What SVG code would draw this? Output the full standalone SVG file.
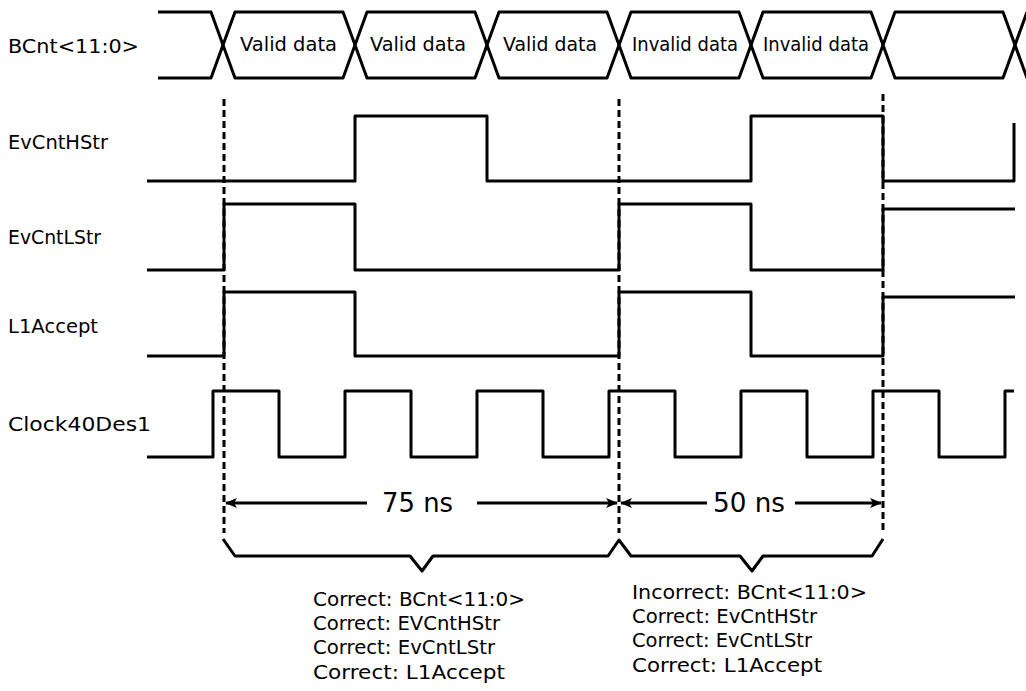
<svg xmlns="http://www.w3.org/2000/svg" width="1026" height="691" viewBox="0 0 1026 691">
<style>
.sig{fill:none;stroke:#000;stroke-width:3;stroke-linejoin:round}
.dash{fill:none;stroke:#000;stroke-width:3;stroke-dasharray:7,4}
.lbl{font-family:"DejaVu Sans","Liberation Sans",sans-serif;font-size:20px;fill:#000}
.bus{font-family:"DejaVu Sans","Liberation Sans",sans-serif;font-size:19px;fill:#000}
.dim{font-family:"DejaVu Sans","Liberation Sans",sans-serif;font-size:27px;fill:#000}
.note{font-family:"DejaVu Sans","Liberation Sans",sans-serif;font-size:20px;fill:#000}
</style>
<defs>
<marker id="ah" viewBox="0 0 12 10" refX="11" refY="5" markerWidth="12" markerHeight="10" markerUnits="userSpaceOnUse" orient="auto-start-reverse">
<path d="M0,0 L12,5 L0,10 L3,5 Z" fill="#000"/>
</marker>
</defs>
<rect width="1026" height="691" fill="#fff"/>

<g id="bcnt">
<text class="lbl" x="8" y="53" textLength="131" lengthAdjust="spacingAndGlyphs">BCnt&lt;11:0&gt;</text>
<path class="sig" d="M158,12 H211 L235,78 H343 L367,12 H475 L499,78 H607 L631,12 H739 L763,78 H871 L895,12 H1003 L1027,78"/>
<path class="sig" d="M158,78 H211 L235,12 H343 L367,78 H475 L499,12 H607 L631,78 H739 L763,12 H871 L895,78 H1003 L1027,12"/>
<text class="bus" x="240" y="51" textLength="97" lengthAdjust="spacingAndGlyphs">Valid data</text>
<text class="bus" x="370" y="51" textLength="96" lengthAdjust="spacingAndGlyphs">Valid data</text>
<text class="bus" x="503" y="51" textLength="94" lengthAdjust="spacingAndGlyphs">Valid data</text>
<text class="bus" x="632" y="51" textLength="106" lengthAdjust="spacingAndGlyphs">Invalid data</text>
<text class="bus" x="763" y="51" textLength="106" lengthAdjust="spacingAndGlyphs">Invalid data</text>
</g>

<g id="evcnthstr">
<text class="lbl" x="8" y="149" textLength="100" lengthAdjust="spacingAndGlyphs">EvCntHStr</text>
<path class="sig" d="M147,181 H355 V116 H487 V181 H751 V116 H883 V181 H1014 V123"/>
</g>

<g id="evcntlstr">
<text class="lbl" x="8" y="244" textLength="93" lengthAdjust="spacingAndGlyphs">EvCntLStr</text>
<path class="sig" d="M147,270 H224 V204 H355 V270 H619 V204 H751 V270 H883 V209 H1015"/>
</g>

<g id="l1accept">
<text class="lbl" x="8" y="333" textLength="90" lengthAdjust="spacingAndGlyphs">L1Accept</text>
<path class="sig" d="M147,356 H224 V292 H355 V356 H619 V292 H751 V356 H883 V297 H1015"/>
</g>

<g id="clock">
<text class="lbl" x="8" y="431" textLength="143" lengthAdjust="spacingAndGlyphs">Clock40Des1</text>
<path class="sig" d="M147,457 H213 V391 H279 V457 H345 V391 H411 V457 H477 V391 H543 V457 H609 V391 H675 V457 H741 V391 H807 V457 H873 V391 H939 V457 H1005 V391 H1014"/>
</g>

<g id="markers">
<line class="dash" x1="224" y1="99" x2="224" y2="533"/>
<line class="dash" x1="619" y1="99" x2="619" y2="533"/>
<line class="dash" x1="883" y1="94" x2="883" y2="533"/>
</g>

<g id="connectors">
<line class="sig" x1="367" y1="503" x2="226" y2="503" marker-end="url(#ah)"/>
<line class="sig" x1="477" y1="503" x2="617" y2="503" marker-end="url(#ah)"/>
<line class="sig" x1="707" y1="503" x2="621" y2="503" marker-end="url(#ah)"/>
<line class="sig" x1="795" y1="503" x2="881" y2="503" marker-end="url(#ah)"/>
<path class="sig" d="M223,539 L235,556 H410 L422,571 L433,556 H608 L619,540 L631,556 H740 L752,571 L763,556 H872 L883,539"/>
</g>

<g id="dims">
<text class="dim" x="382" y="512" textLength="71" lengthAdjust="spacingAndGlyphs">75 ns</text>
<text class="dim" x="713" y="512" textLength="72" lengthAdjust="spacingAndGlyphs">50 ns</text>
</g>

<g id="note-left">
<text class="note" x="313" y="606" textLength="212" lengthAdjust="spacingAndGlyphs">Correct: BCnt&lt;11:0&gt;</text>
<text class="note" x="313" y="630" textLength="187" lengthAdjust="spacingAndGlyphs">Correct: EVCntHStr</text>
<text class="note" x="313" y="654" textLength="182" lengthAdjust="spacingAndGlyphs">Correct: EvCntLStr</text>
<text class="note" x="313" y="679" textLength="192" lengthAdjust="spacingAndGlyphs">Correct: L1Accept</text>
</g>

<g id="note-right">
<text class="note" x="632" y="599" textLength="235" lengthAdjust="spacingAndGlyphs">Incorrect: BCnt&lt;11:0&gt;</text>
<text class="note" x="632" y="623" textLength="185" lengthAdjust="spacingAndGlyphs">Correct: EvCntHStr</text>
<text class="note" x="632" y="647" textLength="180" lengthAdjust="spacingAndGlyphs">Correct: EvCntLStr</text>
<text class="note" x="632" y="672" textLength="190" lengthAdjust="spacingAndGlyphs">Correct: L1Accept</text>
</g>
</svg>
